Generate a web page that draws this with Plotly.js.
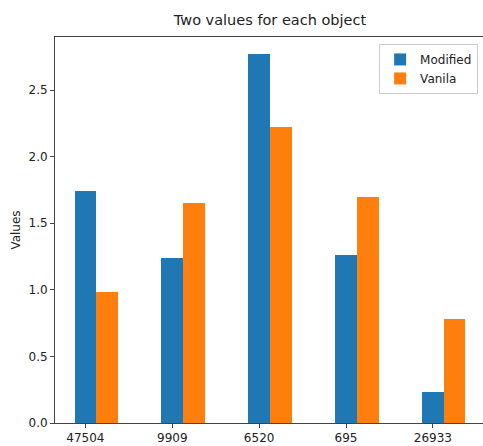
<!DOCTYPE html>
<html>
<head>
<meta charset="utf-8">
<script src="https://cdn.plot.ly/plotly-3.0.1.min.js"></script>
<style>
html,body{margin:0;padding:0;overflow:hidden;background:#fff;}
#chart{width:485px;height:446px;}
</style>
</head>
<body>
<div id="chart"></div>
<script>
const objects = ["47504", "9909", "6520", "695", "26933"];
const modified = [1.74, 1.24, 2.77, 1.26, 0.23];
const vanila = [0.98, 1.65, 2.22, 1.70, 0.78];

const font = "DejaVu Sans, sans-serif";
const traces = [
  {type: "bar", name: "Modified", x: objects, y: modified, width: 0.25, offset: -0.125,
   marker: {color: "#1f77b4"}},
  {type: "bar", name: "Vanila", x: objects, y: vanila, width: 0.25, offset: 0.125,
   marker: {color: "#ff7f0e"}}
];
const layout = {
  width: 485, height: 446,
  margin: {l: 55, r: 0, t: 37, b: 23},
  paper_bgcolor: "#fff", plot_bgcolor: "#fff",
  font: {family: font, size: 12, color: "#222"},
  title: {text: "Two values for each object", font: {family: font, size: 14.5, color: "#222"},
          x: 0.5, xref: "paper", y: 0.955, yanchor: "middle"},
  showlegend: true,
  legend: {x: 0.984, y: 0.982, xanchor: "right", yanchor: "top", bgcolor: "#fff",
           bordercolor: "#ccc", borderwidth: 1, font: {family: font, size: 12, color: "#222"},
           traceorder: "normal"},
  xaxis: {type: "category", range: [-0.35, 4.6], showgrid: false, zeroline: false,
          showline: true, linecolor: "#444", linewidth: 1, mirror: true,
          ticks: "outside", ticklen: 4, tickcolor: "#444", tickfont: {size: 12, color: "#222"}},
  yaxis: {range: [0, 2.898], showgrid: false, zeroline: false, showline: true,
          linecolor: "#444", linewidth: 1, ticks: "outside", ticklen: 4, tickcolor: "#444",
          tickvals: [0, 0.5, 1, 1.5, 2, 2.5], tickformat: ".1f", tickfont: {size: 12, color: "#222"},
          title: {text: "Values", font: {family: font, size: 12, color: "#222"}, standoff: 5}},
  bargap: 0
};
Plotly.newPlot("chart", traces, layout, {displayModeBar: false, staticPlot: true});
</script>
</body>
</html>
